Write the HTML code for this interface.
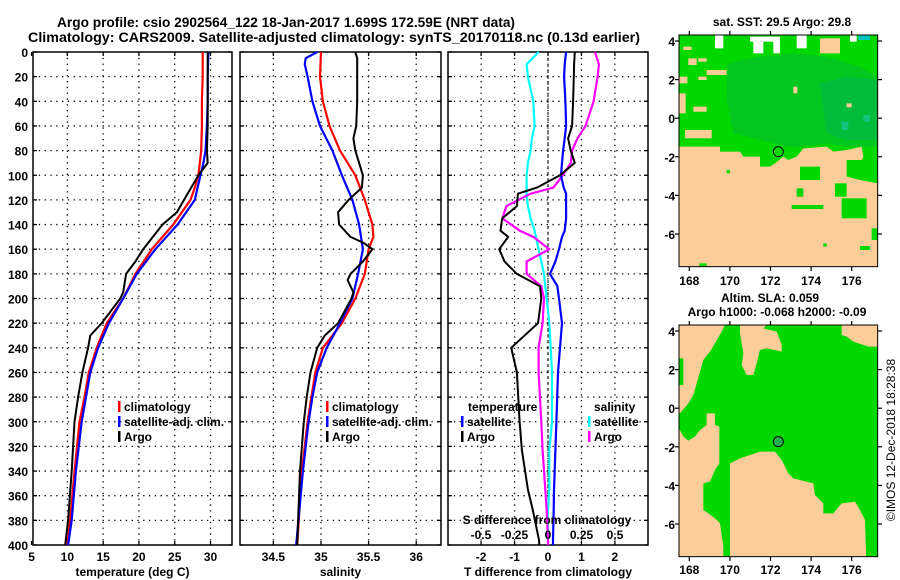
<!DOCTYPE html>
<html><head><meta charset="utf-8">
<style>
html,body{margin:0;padding:0;background:#fff;}
svg{display:block;font-family:"Liberation Sans",Arial,sans-serif;font-weight:bold;}
</style></head>
<body>
<svg id="fig" width="900" height="580" viewBox="0 0 900 580" xmlns="http://www.w3.org/2000/svg">
<text x="57" y="27" font-size="14" textLength="458" lengthAdjust="spacingAndGlyphs">Argo profile: csio 2902564_122 18-Jan-2017 1.699S 172.59E (NRT data)</text>
<text x="28" y="42" font-size="14" textLength="612" lengthAdjust="spacingAndGlyphs">Climatology: CARS2009. Satellite-adjusted climatology: synTS_20170118.nc (0.13d earlier)</text>

<!-- top map -->
<g>
<text x="782" y="26" font-size="12" text-anchor="middle">sat. SST: 29.5 Argo: 29.8</text>
<g transform="translate(660,0) scale(0.33333)">
<rect x="57" y="105" width="596" height="695" fill="#00d800"/>
<polygon fill="#0aa85a" opacity="0.35" points="200,190 300,170 400,160 500,170 600,200 653,230 653,440 560,440 500,430 430,440 380,440 300,420 220,400 200,300"/>
<polygon fill="#0aa870" opacity="0.35" points="480,250 560,230 653,240 653,420 560,420 500,400"/>
<rect x="595" y="105" width="35" height="15" fill="#00c8c0"/>
<rect x="545" y="365" width="20" height="25" fill="#20c8a8" opacity="0.6"/>
<rect x="610" y="345" width="20" height="20" fill="#20c8a8" opacity="0.6"/>
<g fill="#fccc99">
<rect x="480" y="115" width="60" height="45"/>
<rect x="70" y="140" width="25" height="10"/>
<rect x="85" y="175" width="25" height="20"/>
<rect x="115" y="175" width="25" height="10"/>
<rect x="57" y="230" width="25" height="20"/>
<rect x="115" y="230" width="25" height="10"/>
<rect x="140" y="210" width="60" height="15"/>
<rect x="57" y="280" width="20" height="60"/>
<rect x="100" y="320" width="40" height="15"/>
<rect x="75" y="390" width="80" height="25"/>
<rect x="400" y="260" width="12" height="20"/>
<rect x="560" y="310" width="15" height="12"/>
<polygon points="57,440 180,440 180,455 240,455 250,470 300,470 300,500 330,500 345,490 370,470 385,480 410,470 430,445 500,440 520,455 560,450 605,440 610,470 600,490 560,500 560,530 600,540 653,550 653,800 57,800"/>
</g>
<g fill="#fff">
<rect x="165" y="105" width="25" height="40"/>
<rect x="270" y="110" width="90" height="15"/>
<rect x="280" y="125" width="30" height="35"/>
<rect x="340" y="120" width="20" height="40"/>
<rect x="410" y="105" width="30" height="40"/>
<rect x="570" y="105" width="20" height="20"/>
</g>
<g fill="#00d800">
<rect x="420" y="500" width="60" height="40"/>
<rect x="525" y="550" width="35" height="40"/>
<rect x="545" y="595" width="75" height="60"/>
<rect x="410" y="565" width="20" height="25"/>
<rect x="395" y="615" width="95" height="12"/>
<rect x="635" y="685" width="18" height="35"/>
<rect x="600" y="738" width="30" height="12"/>
<rect x="490" y="730" width="10" height="10"/>
<rect x="118" y="790" width="22" height="10"/>
<rect x="200" y="510" width="10" height="10"/>
<rect x="560" y="480" width="50" height="20"/>
</g>
<circle cx="355" cy="455" r="15" fill="none" stroke="#000" stroke-width="3"/>
<rect x="57" y="105" width="596" height="695" fill="none" stroke="#000" stroke-width="3"/>
</g>
</g>

<!-- bottom map -->
<g>
<text x="770" y="302" font-size="12" text-anchor="middle">Altim. SLA: 0.059</text>
<text x="777" y="316" font-size="12" text-anchor="middle">Argo h1000: -0.068 h2000: -0.09</text>
<g transform="translate(660,290) scale(0.33333)">
<rect x="57" y="105" width="596" height="695" fill="#00d800"/>
<g fill="#fccc99">
<polygon points="57,105 195,105 185,125 165,160 150,185 130,210 120,245 110,280 100,315 85,340 60,370 57,370"/>
<polygon points="57,415 70,440 85,452 105,440 120,420 140,405 140,370 165,370 165,405 178,410 178,520 165,540 150,575 130,580 130,660 145,670 165,685 180,700 190,770 190,800 57,800"/>
<polygon points="210,800 210,520 240,505 300,485 345,485 365,510 385,550 400,565 460,580 465,615 490,640 490,670 520,670 545,640 585,635 600,660 615,690 618,780 618,800"/>
<polygon points="240,105 320,105 310,115 350,125 365,165 365,185 320,175 300,180 290,220 280,255 260,255 245,225 250,190 245,160 240,130"/>
<polygon points="545,105 653,105 653,170 625,170 580,155 560,140 545,135"/>
</g>
<rect x="57" y="205" width="13" height="80" fill="#00d800"/>
<circle cx="355" cy="455" r="15" fill="#22b050" stroke="#000" stroke-width="3"/>
<rect x="57" y="105" width="596" height="695" fill="none" stroke="#000" stroke-width="3"/>
</g>
</g>

<text transform="translate(895,440) rotate(-90)" font-size="12" font-weight="normal" text-anchor="middle">©IMOS 12-Dec-2018 18:28:38</text>
<g id="plots"></g>
</svg>
<script>
// ---------- data ----------
const depthTicks = [0,20,40,60,80,100,120,140,160,180,200,220,240,260,280,300,320,340,360,380,400];
const tTicks = [5,10,15,20,25,30];
const sTicks = [34.5,35,35.5,36];
const dTTicks = [-2,-1,0,1,2];
const dSTicks = [-0.5,-0.25,0,0.25,0.5];
const dSTickLabels = ['-0.5','-0.25','0','0.25','0.5'];
const latTicks = [4,2,0,-2,-4,-6];
const lonTicks = [168,170,172,174,176];

const tClimDepth = [0,20,40,60,80,90,100,110,120,140,160,180,200,220,240,260,280,300,340,380,400];
const tClim      = [28.9,28.9,28.8,28.8,28.7,28.5,28.3,27.8,27.2,24.8,21.8,19.5,17.8,15.5,14.1,13.0,12.4,11.7,11.0,10.4,10.0];
const tSatDepth  = [0,20,40,60,80,90,100,110,120,140,160,180,200,220,240,260,280,300,340,380,400];
const tSat       = [29.7,29.6,29.6,29.5,29.3,29.0,28.6,28.2,27.8,25.4,22.3,19.7,17.8,15.8,14.3,13.2,12.6,12.0,11.2,10.6,10.1];
const tArgoDepth = [0,20,40,60,80,90,100,110,120,130,140,160,170,180,195,200,220,230,240,260,280,300,340,380,400];
const tArgo      = [29.6,29.6,29.6,29.6,29.5,29.6,28.3,27.3,26.3,25.3,23.3,20.6,19.5,18.2,17.8,17.4,14.8,13.2,12.9,12.1,11.5,11.0,10.6,10.1,9.7];

const sClimDepth = [0,20,40,60,80,100,120,140,150,160,180,200,220,240,260,280,300,340,400];
const sClim      = [35.0,34.99,35.02,35.09,35.2,35.36,35.46,35.54,35.55,35.5,35.46,35.36,35.22,35.02,34.94,34.9,34.86,34.8,34.75];
const sSatDepth  = [0,5,10,20,40,60,80,100,120,140,160,180,200,220,240,260,280,300,340,400];
const sSat       = [34.96,34.84,34.83,34.86,34.91,34.99,35.12,35.22,35.33,35.4,35.44,35.39,35.33,35.2,35.06,34.96,34.91,34.87,34.81,34.74];
const sArgoDepth = [0,5,20,40,60,70,80,100,110,120,130,140,150,155,160,170,180,185,195,200,220,230,240,260,280,300,340,380,400];
const sArgo      = [35.36,35.38,35.38,35.38,35.37,35.34,35.36,35.44,35.43,35.29,35.18,35.19,35.31,35.45,35.54,35.44,35.31,35.28,35.34,35.32,35.18,35.04,34.96,34.89,34.85,34.82,34.78,34.76,34.75];

const dDepth   = [0,10,20,40,60,70,80,90,100,110,115,125,135,145,150,160,170,180,190,200,220,240,260,300,323,355,372,396,400];
const dTSat    = [0.54,0.5,0.48,0.52,0.54,0.5,0.45,0.42,0.39,0.47,0.54,0.54,0.54,0.5,0.42,0.33,0.22,0.06,0.28,0.33,0.42,0.36,0.3,0.25,0.22,0.18,0.17,0.15,0.15];
const dTArgo   = [0.8,0.78,0.77,0.75,0.72,0.6,0.68,0.8,0.36,-0.33,-0.9,-0.93,-1.37,-1.42,-1.19,-1.46,-1.3,-0.93,-0.24,-0.2,-0.3,-1.1,-0.93,-0.85,-0.78,-0.6,-0.45,-0.27,-0.26];
const dSSat    = [-0.07,-0.16,-0.15,-0.11,-0.1,-0.12,-0.13,-0.15,-0.16,-0.16,-0.16,-0.15,-0.13,-0.1,-0.09,-0.07,-0.05,-0.03,-0.02,-0.01,0.01,0.02,0.03,0.03,0.01,0.01,0.0,0.0,0.0];
const dSArgo   = [0.35,0.38,0.37,0.34,0.28,0.22,0.18,0.17,0.11,0.04,-0.13,-0.31,-0.34,-0.21,-0.11,0.01,-0.16,-0.16,-0.05,-0.03,-0.04,-0.07,-0.07,-0.05,-0.04,-0.02,-0.01,0.0,0.0];

// ---------- geometry ----------
const NS='http://www.w3.org/2000/svg';
const root=document.getElementById('plots');
const Y0=52, Y1=545;
function yD(d){return Y0+(d/400)*(Y1-Y0);}
const P1={x0:33,x1:232,min:5.2,max:33.0};
const P2={x0:240,x1:441,min:34.15,max:36.26};
const P3={x0:448,x1:648,min:-2.99,max:2.99};
const P3S={x0:448,x1:648,min:-0.746,max:0.746};
function sx(p,v){return p.x0+(v-p.min)/(p.max-p.min)*(p.x1-p.x0);}
function mk(tag,attrs,parent){const e=document.createElementNS(NS,tag);for(const k in attrs)e.setAttribute(k,attrs[k]);(parent||root).appendChild(e);return e;}
function txt(x,y,s,size,anchor,name){const t=mk('text',{x:x,y:y,'font-size':size,'text-anchor':anchor});t.textContent=s;


return t;}

function panel(p,name,xticks,xlabels,xtitle,leftLabels){
  const g=mk('g',{});
  
  
  depthTicks.forEach(d=>{
    if(d>0&&d<400) mk('line',{x1:p.x0,x2:p.x1,y1:yD(d),y2:yD(d),stroke:'#000','stroke-width':1.3,'stroke-dasharray':'1.3 4.5'},g);
    mk('line',{x1:p.x0,x2:p.x0+4,y1:yD(d),y2:yD(d),stroke:'#000','stroke-width':1.3},g);
    mk('line',{x1:p.x1-4,x2:p.x1,y1:yD(d),y2:yD(d),stroke:'#000','stroke-width':1.3},g);
    if(leftLabels){txt(28,yD(d)+5,String(d),12,'end','depth-tick-label');}
  });
  xticks.forEach((v,i)=>{
    const x=sx(p,v);
    if(x>p.x0+2&&x<p.x1-2) mk('line',{x1:x,x2:x,y1:Y0,y2:Y1,stroke:'#000','stroke-width':1.3,'stroke-dasharray':'1.3 4.5'},g);
    mk('line',{x1:x,x2:x,y1:Y0,y2:Y0+4,stroke:'#000','stroke-width':1.3},g);
    mk('line',{x1:x,x2:x,y1:Y1-4,y2:Y1,stroke:'#000','stroke-width':1.3},g);
    txt(x,561,xlabels[i],12,'middle','x-tick-label');
  });
  mk('rect',{x:p.x0,y:Y0,width:p.x1-p.x0,height:Y1-Y0,fill:'none',stroke:'#000','stroke-width':1.5},g);
  txt((p.x0+p.x1)/2,576,xtitle,12,'middle','x-axis-title');
  return g;
}
function series(p,vals,depths,color,name,w){
  const pts=vals.map((v,i)=>sx(p,v).toFixed(1)+','+yD(depths[i]).toFixed(1)).join(' ');
  const e=mk('polyline',{points:pts,fill:'none',stroke:color,'stroke-width':w||2,'stroke-linejoin':'round'});
  
  
}
function legend(x,y,color,label,name){
  mk('rect',{x:x,y:y-10,width:2.5,height:11,fill:color});
  txt(x+6,y,label,12,'start',name);
}

panel(P1,'temperature-panel',tTicks,tTicks.map(String),'temperature (deg C)',true);
series(P1,tClim,tClimDepth,'#ff0000','temp-climatology-line',2.2);
series(P1,tSat,tSatDepth,'#0000ff','temp-satellite-line',2.2);
series(P1,tArgo,tArgoDepth,'#000000','temp-argo-line',2);
legend(118,411,'#ff0000','climatology','legend-climatology');
legend(118,426,'#0000ff','satellite-adj. clim.','legend-satellite');
legend(118,441,'#000000','Argo','legend-argo');

panel(P2,'salinity-panel',sTicks,sTicks.map(String),'salinity',false);
series(P2,sClim,sClimDepth,'#ff0000','sal-climatology-line',2.2);
series(P2,sSat,sSatDepth,'#0000ff','sal-satellite-line',2.2);
series(P2,sArgo,sArgoDepth,'#000000','sal-argo-line',2);
legend(326,411,'#ff0000','climatology','legend-climatology');
legend(326,426,'#0000ff','satellite-adj. clim.','legend-satellite');
legend(326,441,'#000000','Argo','legend-argo');

panel(P3,'difference-panel',dTTicks,dTTicks.map(String),'T difference from climatology',false);
mk('line',{x1:sx(P3,0),x2:sx(P3,0),y1:Y0,y2:Y1,stroke:'#000','stroke-width':1,'stroke-dasharray':'3 3'});
series(P3S,dSSat,dDepth,'#00ffff','sdiff-satellite-line',2.2);
series(P3S,dSArgo,dDepth,'#ff00ff','sdiff-argo-line',2.2);
series(P3,dTSat,dDepth,'#0000ff','tdiff-satellite-line',2.2);
series(P3,dTArgo,dDepth,'#000000','tdiff-argo-line',2);
txt(468,411,'temperature',12,'start','legend-temperature-heading');
legend(461,426,'#0000ff','satellite','legend-t-satellite');
legend(461,441,'#000000','Argo','legend-t-argo');
txt(594,411,'salinity',12,'start','legend-salinity-heading');
legend(588,426,'#00ffff','satellite','legend-s-satellite');
legend(588,441,'#ff00ff','Argo','legend-s-argo');
txt(547,524,'S difference from climatology',12,'middle','s-axis-title');
dSTicks.forEach((v,i)=>{txt(sx(P3S,v),539,dSTickLabels[i],12,'middle','s-tick-label');});

// map axes
function mapAxes(x0,x1,yTop,yBot,lat4,latScale,lonLabelY,name){
  const g=mk('g',{});
  
  
  const lon168=689.3, lonScale=20.3;
  latTicks.forEach(l=>{
    const y=lat4+(4-l)*latScale;
    mk('line',{x1:x0-4,x2:x0,y1:y,y2:y,stroke:'#000','stroke-width':1.2},g);
    mk('line',{x1:x1,x2:x1+4,y1:y,y2:y,stroke:'#000','stroke-width':1.2},g);
    txt(675,y+5,String(l),12,'end','lat-tick-label');
  });
  lonTicks.forEach(l=>{
    const x=lon168+(l-168)*lonScale;
    mk('line',{x1:x,x2:x,y1:yTop-4,y2:yTop,stroke:'#000','stroke-width':1.2},g);
    mk('line',{x1:x,x2:x,y1:yBot,y2:yBot+4,stroke:'#000','stroke-width':1.2},g);
    txt(x,lonLabelY,String(l),12,'middle','lon-tick-label');
  });
}
mapAxes(679,878,35,267,41,19.3,285,'sst-map-axes');
mapAxes(679,878,325,557,331,19.3,574,'sla-map-axes');
</script>
</body></html>
